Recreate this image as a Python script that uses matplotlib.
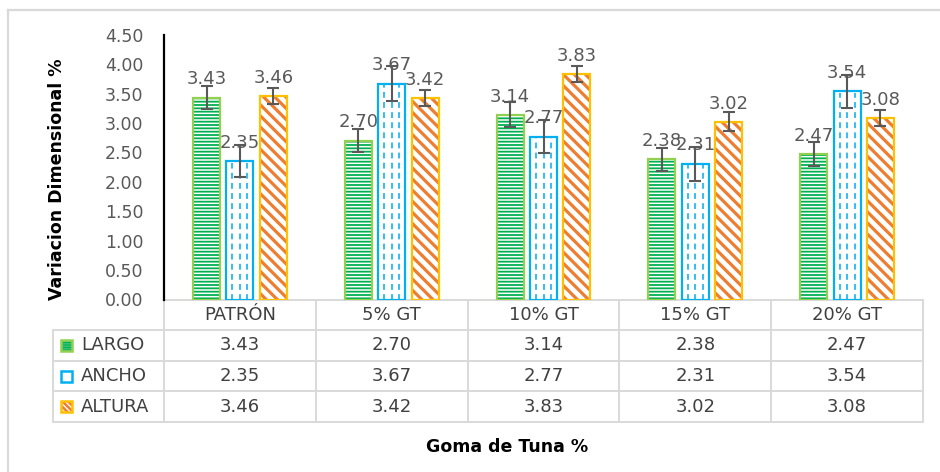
import matplotlib
matplotlib.use('Agg')
import matplotlib.pyplot as plt
from matplotlib.patches import Rectangle
from matplotlib.lines import Line2D
import matplotlib.transforms as mtransforms
import numpy as np

# ---------------- data ----------------
categories = ['PATRÓN', '5% GT', '10% GT', '15% GT', '20% GT']
series_names = ['LARGO', 'ANCHO', 'ALTURA']
largo = [3.43, 2.70, 3.14, 2.38, 2.47]
ancho = [2.35, 3.67, 2.77, 2.31, 3.54]
altura = [3.46, 3.42, 3.83, 3.02, 3.08]
largo_err = [0.19, 0.20, 0.21, 0.20, 0.20]
ancho_err = [0.27, 0.29, 0.28, 0.29, 0.28]
altura_err = [0.14, 0.14, 0.14, 0.16, 0.14]
y_ticks = [0.0, 0.5, 1.0, 1.5, 2.0, 2.5, 3.0, 3.5, 4.0, 4.5]
y_label = 'Variacion Dimensional %'
x_label = 'Goma de Tuna %'

values = [largo, ancho, altura]
errors = [largo_err, ancho_err, altura_err]

# ---------------- styles ----------------
styles = [
    dict(hatch='-----', hcolor='#00b050', edge='#92d050', hlw=1.3),
    dict(hatch=None, hcolor='#33bdf2', edge='#00b0f0', hlw=1.0),
    dict(hatch='\\\\\\', hcolor='#ed7d31', edge='#ffc000', hlw=2.3),
]
offsets = [-0.22, 0.0, 0.22]
bar_w = 0.178
label_color = '#595959'
table_color = '#404040'
grid_gray = '#d9d9d9'
fs_label = 13
fs_table = 13
fs_tick = 12.5
fs_title = 12.5

plt.rcParams['font.family'] = ['DejaVu Sans']

W, H = 940, 472
fig = plt.figure(figsize=(W / 100, H / 100), dpi=100)

ax_l, ax_r = 164, 923
ax_t, ax_b = 34.7, 299.5
ax = fig.add_axes([ax_l / W, 1 - ax_b / H, (ax_r - ax_l) / W, (ax_b - ax_t) / H])
ax_h_px = ax_b - ax_t
ax_w_px = ax_r - ax_l
n = len(categories)
px_per_cat = ax_w_px / n

x = np.arange(n)


def draw_bars(xpos, vals, st, width):
    if st['hatch']:
        with plt.rc_context({'hatch.linewidth': st['hlw']}):
            hb = ax.bar(xpos, vals, width, color='white', edgecolor=st['hcolor'],
                        linewidth=0, hatch=st['hatch'], zorder=2)
            for p in hb:
                if hasattr(p, 'set_hatch_linewidth'):
                    p.set_hatch_linewidth(st['hlw'])
    else:
        ax.bar(xpos, vals, width, color='white', linewidth=0, zorder=2)
    eb = ax.bar(xpos, vals, width, fill=False, edgecolor=st['edge'],
                linewidth=1.6, zorder=3)
    return eb


for i, (vals, errs, st) in enumerate(zip(values, errors, styles)):
    xpos = x + offsets[i]
    bars = draw_bars(xpos, vals, st, bar_w)
    if st['hatch'] is None:
        # dashed vertical pattern inside the bars
        for p in bars:
            for f in (0.22, 0.5, 0.78):
                xx = p.get_x() + p.get_width() * f
                ax.vlines(xx, 0, p.get_height() - 0.03, colors=st['hcolor'],
                          linewidth=1.4, linestyles=(0, (3, 2.2)), zorder=2.5)
    ax.errorbar(xpos, vals, yerr=errs, fmt='none', ecolor=label_color,
                elinewidth=1.5, capsize=4, capthick=1.5, zorder=5)
    for xv, v in zip(xpos, vals):
        ax.annotate(f'{v:.2f}', (xv, v), xytext=(0, 9.5), textcoords='offset points',
                    ha='center', va='baseline', fontsize=fs_label, color=label_color,
                    zorder=6)

ax.set_xlim(-0.5, n - 0.5)
ax.set_ylim(0, 4.5)
ax.set_yticks(y_ticks)
ax.set_yticklabels([f'{t:.2f}' for t in y_ticks])
ax.tick_params(axis='y', length=0, pad=15, labelsize=fs_tick, labelcolor=label_color)
ax.set_xticks([])
for s in ['top', 'right', 'bottom']:
    ax.spines[s].set_visible(False)
ax.spines['left'].set_color('black')
ax.spines['left'].set_linewidth(1.6)

# ---------------- data table (x in data units, y in axes fraction) ----------------
bt = mtransforms.blended_transform_factory(ax.transData, ax.transAxes)
row_px = [299.5, 330.3, 360.7, 391.3, 422.0]          # row boundaries (pixels)
row_y = [-(p - ax_b) / ax_h_px for p in row_px]      # in axes fraction
lab_left = -0.5 - (ax_l - 53) / px_per_cat            # left edge of label column
x_right = n - 0.5

line_kw = dict(color=grid_gray, linewidth=1.4, transform=bt, clip_on=False, zorder=1)
ax.add_line(Line2D([-0.5, x_right], [row_y[0], row_y[0]], **line_kw))
for yy in row_y[1:]:
    ax.add_line(Line2D([lab_left, x_right], [yy, yy], **line_kw))
ax.add_line(Line2D([lab_left, lab_left], [row_y[1], row_y[-1]], **line_kw))
for k in range(n + 1):
    xb = k - 0.5
    ax.add_line(Line2D([xb, xb], [row_y[0], row_y[-1]], **line_kw))

hdr_y = (row_y[0] + row_y[1]) / 2
for i, cat in enumerate(categories):
    ax.text(i, hdr_y, cat, transform=bt, ha='center', va='center', fontsize=fs_table,
            color=table_color, clip_on=False)

key_w_px, key_h_px = 11, 11
for r, (name, vals, st) in enumerate(zip(series_names, values, styles)):
    yc = (row_y[r + 1] + row_y[r + 2]) / 2
    ax.text(lab_left + 28 / px_per_cat, yc, name, transform=bt, ha='left', va='center',
            fontsize=fs_table, color=table_color, clip_on=False)
    for i, v in enumerate(vals):
        ax.text(i, yc, f'{v:.2f}', transform=bt, ha='center', va='center',
                fontsize=fs_table, color=table_color, clip_on=False)
    kx = lab_left + 8 / px_per_cat
    kw = key_w_px / px_per_cat
    kh = key_h_px / ax_h_px
    ky = yc - kh / 2
    if st['hatch']:
        with plt.rc_context({'hatch.linewidth': st['hlw'] * 0.8}):
            r1 = Rectangle((kx, ky), kw, kh, transform=bt, clip_on=False,
                           facecolor='white', edgecolor=st['hcolor'], linewidth=0,
                           hatch=st['hatch'] * 2, zorder=7)
            if hasattr(r1, 'set_hatch_linewidth'):
                r1.set_hatch_linewidth(st['hlw'] * 0.8)
            ax.add_patch(r1)
    r2 = Rectangle((kx, ky), kw, kh, transform=bt, clip_on=False,
                   fill=False, edgecolor=st['edge'], linewidth=1.8, zorder=8)
    ax.add_patch(r2)

# ---------------- titles ----------------
fig.text(57.5 / W, 1 - 179 / H, y_label, rotation=90, ha='center', va='center',
         fontsize=fs_title, fontweight='bold', color='black')
fig.text(507 / W, 1 - 447.5 / H, x_label, ha='center', va='center',
         fontsize=fs_title, fontweight='bold', color='black')

# chart border
fig.add_artist(Line2D([8 / W, 8 / W], [0, 1 - 10 / H], transform=fig.transFigure,
                      color=grid_gray, linewidth=1.6))
fig.add_artist(Line2D([8 / W, 1], [1 - 10 / H, 1 - 10 / H], transform=fig.transFigure,
                      color=grid_gray, linewidth=1.6))

fig.savefig('out.png', dpi=100)
